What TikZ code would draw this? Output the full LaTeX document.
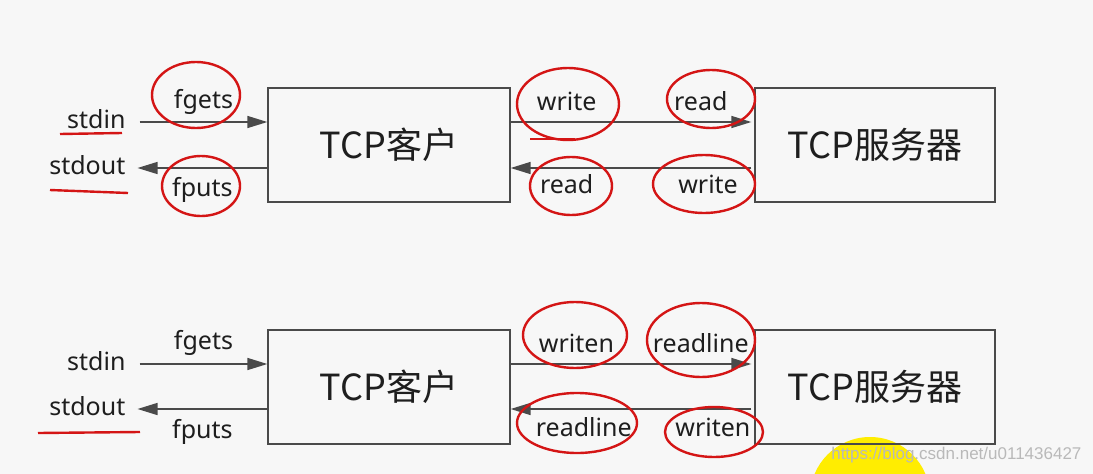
\documentclass[tikz,border=0pt]{standalone}
\usepackage{fontspec}
\setmainfont{Noto Sans}
\newfontfamily\cjk{Noto Sans CJK SC}
\newfontfamily\wmfont{Liberation Sans}
\usetikzlibrary{arrows.meta}
\usetikzlibrary{positioning}
\definecolor{paper}{HTML}{F7F7F7}
\definecolor{ink}{HTML}{1E1E1E}
\definecolor{wire}{HTML}{4A4A4A}
\definecolor{pen}{HTML}{D41515}
\tikzset{
  box/.style={draw=wire, line width=1.3pt, minimum width=242pt,
    minimum height=114pt, font=\cjk\fontsize{36}{40}\selectfont, text=ink},
  io/.style={font=\fontsize{25}{29}\selectfont, text=ink, inner sep=0pt,
    text height=18pt, text depth=5pt},
  flow/.style={-{Triangle[length=20pt,width=12pt]},
    draw=wire, line width=1.5pt},
  hand/.style={draw=pen, line width=2.4pt},
}

\begin{document}
\begin{tikzpicture}[x=1pt, y=-1pt,
      node distance=486pt,
      on grid]

    \path[use as bounding box, fill=paper] (0,0) rectangle (1093,474);

    % yellow spot and watermark
    \fill[yellow!95!orange] (870,497) circle (60);
    \node[font=\wmfont\fontsize{17}{20}\selectfont, text=gray!55, anchor=east]
      (Mark) at (1085,455) {https://blog.csdn.net/u011436427};

    \node[box]
      (Client) at (389,145) {TCP客户};
    \node[box, minimum width=240pt]
      (Server) [right=of Client] {TCP服务器};
    \node[box]
      (ClientB) [below=242pt of Client] {TCP客户};
    \node[box, minimum width=240pt]
      (ServerB) [right=of ClientB] {TCP服务器};

    \coordinate (InA) at ([yshift=23pt]Client.west);
    \coordinate (OutA) at ([yshift=-23pt]Client.west);
    \coordinate (InB) at ([yshift=23pt]ClientB.west);
    \coordinate (OutB) at ([yshift=-22pt]ClientB.west);

    \path (InA) ++(-171,0) node[io] (StdinA) {stdin};
    \path (OutA) ++(-180,0) node[io] (StdoutA) {stdout};
    \path (InB) ++(-171,0) node[io] (StdinB) {stdin};
    \path (OutB) ++(-180,0) node[io] (StdoutB) {stdout};

    % first row: write / read
    \draw[flow] ([xshift=14pt]StdinA.east) --
      node[io, yshift=20pt] (FgetsA) {fgets} (InA);
    \draw[flow] (OutA) --
      node[io, yshift=-22pt] (FputsA) {fputs} ([xshift=12pt]StdoutA.east);
    \draw[flow, shorten >=3pt] (InA -| Client.east) --
      node[io, pos=.23, yshift=18pt] (WriteA) {write}
      node[io, pos=.78, yshift=18pt] (ReadA) {read} (InA -| Server.west);
    \draw[flow, shorten <=3pt] (OutA -| Server.west) --
      node[io, pos=.19, yshift=-19pt] (WriteS) {write}
      node[io, pos=.77, yshift=-19pt] (ReadS) {read} (OutA -| Client.east);

    % second row: writen / readline
    \draw[flow] ([xshift=14pt]StdinB.east) --
      node[io, yshift=21pt] (FgetsB) {fgets} (InB);
    \draw[flow] (OutB) --
      node[io, yshift=-23pt] (FputsB) {fputs} ([xshift=12pt]StdoutB.east);
    \draw[flow, shorten >=3pt] (InB -| ClientB.east) --
      node[io, pos=.27, yshift=18pt] (WritenB) {writen}
      node[io, pos=.78, yshift=18pt] (ReadlineB) {readline} (InB -| ServerB.west);
    \draw[flow, shorten <=3pt] (OutB -| ServerB.west) --
      node[io, pos=.17, yshift=-21pt] (WritenS) {writen}
      node[io, pos=.70, yshift=-21pt] (ReadlineS) {readline} (OutB -| ClientB.east);

    % red pen marks
    \draw[hand] (196,95) ellipse (44 and 33);
    \draw[hand] (201,186) ellipse (39 and 30);
    \draw[hand] (568,104) ellipse (51 and 36);
    \draw[hand] (711,99) ellipse (44 and 29);
    \draw[hand] (571,186) ellipse (41 and 29);
    \draw[hand] (704,184) ellipse (51 and 29);
    \draw[hand] (575,335) ellipse (52 and 33);
    \draw[hand] (701,340) ellipse (54 and 37);
    \draw[hand] (577,423) ellipse (60 and 30);
    \draw[hand] (714,432) ellipse (49 and 25);
    \draw[hand] (60,134) -- (122,133);
    \draw[hand] (50,190) -- (128,193);
    \draw[hand] (530,139) -- (575,139);
    \draw[hand] (38,433) -- (140,432);

  \end{tikzpicture}
\end{document}
